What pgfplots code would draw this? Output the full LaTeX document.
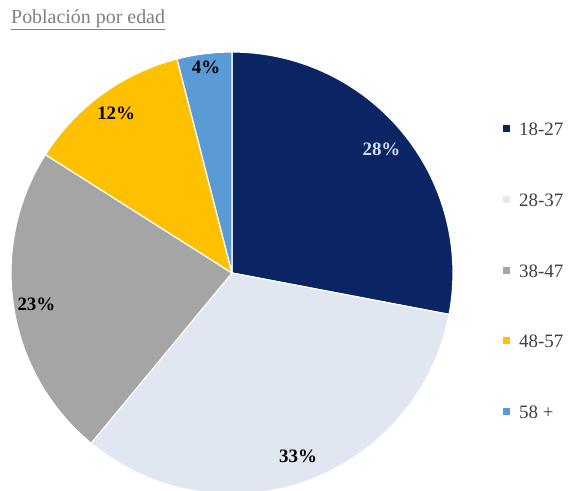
\documentclass[border=0pt]{standalone}
\usepackage{fontspec}
\setmainfont{Liberation Serif}
\usepackage{pgfplots}
\usepackage{pgfplotstable}
\pgfplotsset{compat=1.18}
\definecolor{c1}{HTML}{0B2463}
\definecolor{c2}{HTML}{E1E7F0}
\definecolor{c3}{HTML}{A5A5A5}
\definecolor{c4}{HTML}{FFC000}
\definecolor{c5}{HTML}{5B9BD5}
\definecolor{lab1}{HTML}{D3DEF0}
\definecolor{titlegray}{HTML}{808080}
\definecolor{legtext}{HTML}{404040}
\pgfplotstableread[col sep=comma]{
label,value,col,labcol,labr,legy
18-27,28,c1,lab1,194,129
28-37,33,c2,black,195,200
38-47,23,c3,black,198,271
48-57,12,c4,black,197,341
58 +,4,c5,black,207,412
}\pietable
\begin{document}
\begin{tikzpicture}
\begin{axis}[x=1bp,y=1bp,xmin=0,xmax=569,ymin=0,ymax=491,hide axis,clip=false]
\pgfplotstablegetrowsof{\pietable}
\pgfmathtruncatemacro{\nrows}{\pgfplotsretval-1}
\gdef\cumangle{90}
\pgfplotsforeachungrouped \i in {0,...,\nrows}{%
  \pgfplotstablegetelem{\i}{value}\of{\pietable}\let\val\pgfplotsretval
  \pgfplotstablegetelem{\i}{col}\of{\pietable}\let\col\pgfplotsretval
  \pgfplotstablegetelem{\i}{labcol}\of{\pietable}\let\labcol\pgfplotsretval
  \pgfplotstablegetelem{\i}{labr}\of{\pietable}\let\labr\pgfplotsretval
  \pgfplotstablegetelem{\i}{label}\of{\pietable}\let\lab\pgfplotsretval
  \pgfplotstablegetelem{\i}{legy}\of{\pietable}\let\legy\pgfplotsretval
  \pgfmathsetmacro{\start}{\cumangle}%
  \pgfmathsetmacro{\stop}{\cumangle-3.6*\val}%
  \pgfmathsetmacro{\mid}{(\start+\stop)/2}%
  \pgfmathsetmacro{\lx}{232+\labr*cos(\mid)}%
  \pgfmathsetmacro{\ly}{218+\labr*sin(\mid)}%
  \pgfmathsetmacro{\ay}{491-\legy}%
  \edef\temp{%
    \noexpand\fill[\col, draw=white, line width=1.2bp, line join=round] (axis cs:232,218) -- ++(\start:221bp) arc[start angle=\start, end angle=\stop, radius=221bp] -- cycle;
    \noexpand\node[text=\labcol, font=\noexpand\fontsize{19}{21}\noexpand\selectfont\noexpand\bfseries] at (axis cs:\lx,\ly) {\val\noexpand\%};
    \noexpand\fill[\col] (axis cs:506.5,\ay) ++(-3.5bp,-3.5bp) rectangle ++(7bp,7bp);
    \noexpand\node[anchor=west, inner sep=0pt, text=legtext, font=\noexpand\fontsize{19}{21}\noexpand\selectfont] at (axis cs:519,\ay) {\lab};
  }%
  \temp
  \xdef\cumangle{\stop}%
}
\node[anchor=west, inner sep=0pt, text=titlegray, font=\fontsize{20}{22}\selectfont] at (axis cs:11,471) {\underline{Población por edad}};
\end{axis}
\pgfresetboundingbox
\path[use as bounding box] (current axis.south west) rectangle (current axis.north east);
\end{tikzpicture}
\end{document}
